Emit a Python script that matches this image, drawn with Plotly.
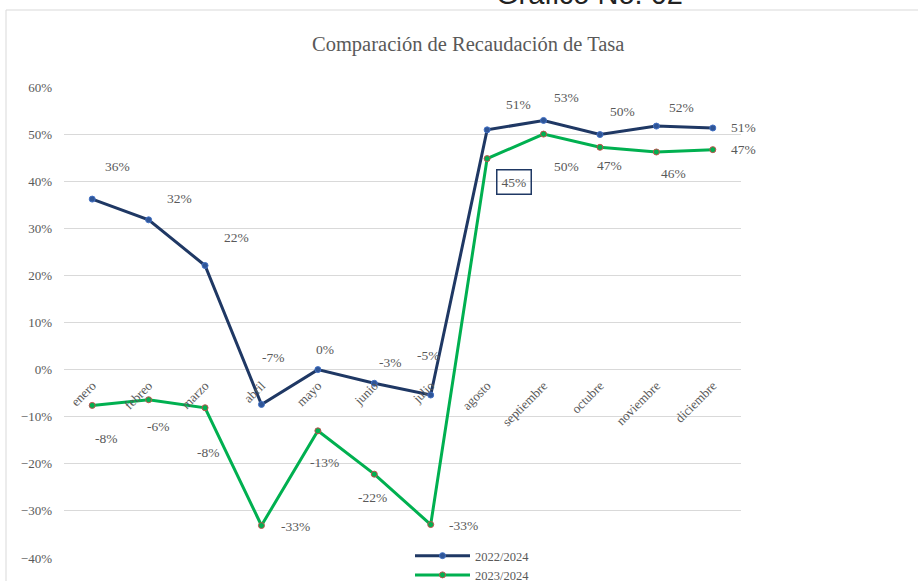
import plotly.graph_objects as go

# ---- data ----
months = ["enero", "febreo", "marzo", "abril", "mayo", "junio", "julio",
          "agosto", "septiembre", "octubre", "noviembre", "diciembre"]
serie_2022 = [0.362, 0.318, 0.221, -0.074, 0.000, -0.029, -0.054,
              0.509, 0.529, 0.499, 0.517, 0.513]
serie_2023 = [-0.076, -0.064, -0.081, -0.331, -0.130, -0.222, -0.329,
              0.448, 0.500, 0.472, 0.462, 0.467]
labels_2022 = ["36%", "32%", "22%", "-7%", "0%", "-3%", "-5%",
               "51%", "53%", "50%", "52%", "51%"]
labels_2023 = ["-8%", "-6%", "-8%", "-33%", "-13%", "-22%", "-33%",
               "45%", "50%", "47%", "46%", "47%"]
name_2022 = "2022/2024"
name_2023 = "2023/2024"
y_ticks = [-0.4, -0.3, -0.2, -0.1, 0.0, 0.1, 0.2, 0.3, 0.4, 0.5, 0.6]

# ---- label offsets (pixels: right, down) ----
off_2022 = [(25, -33), (31, -21), (31, -28), (12, -47), (7, -20), (16, -21),
            (-2, -40), (31, -25), (23, -23), (23, -23), (25, -19), (31, 0)]
off_2023 = [(14, 33), (10, 27), (3, 45), (34, 1), (7, 32), (-2, 23),
            (33, 1), (27, 23), (23, 32), (10, 18), (17, 21), (31, 0)]

# ---- layout geometry ----
W, H = 918, 581
ML, MR, MT, MB = 64, 177, 87, 23
PW, PH = W - ML - MR, H - MT - MB


def px_x(p):
    return (p - ML) / PW


def px_y(p):
    return (H - MB - p) / PH


NAVY = "#1F3864"
GREEN = "#00B050"
GRAY = "#595959"
SERIF = "Liberation Serif"

fig = go.Figure()
fig.add_trace(go.Scatter(
    x=months, y=serie_2022, name=name_2022, mode="lines+markers",
    line=dict(color=NAVY, width=3),
    marker=dict(size=6, color="#2F5597", line=dict(color="#4472C4", width=1)),
))
fig.add_trace(go.Scatter(
    x=months, y=serie_2023, name=name_2023, mode="lines+markers",
    line=dict(color=GREEN, width=3),
    marker=dict(size=6, color=GREEN, line=dict(color="#C0504D", width=1)),
))

annotations = []
for m, v, t, (dx, dy) in zip(months, serie_2022, labels_2022, off_2022):
    annotations.append(dict(x=m, y=v, xref="x", yref="y", text=t, showarrow=False,
                            xshift=dx, yshift=-dy,
                            font=dict(family=SERIF, size=13.5, color=GRAY)))
for i, (m, v, t, (dx, dy)) in enumerate(zip(months, serie_2023, labels_2023, off_2023)):
    a = dict(x=m, y=v, xref="x", yref="y", text=t, showarrow=False,
             xshift=dx, yshift=-dy,
             font=dict(family=SERIF, size=13.5, color=GRAY))
    if i == 7:
        a.update(bordercolor=NAVY, borderwidth=1.5, borderpad=4)
    annotations.append(a)

annotations.append(dict(x=px_x(468), y=px_y(44), xref="paper", yref="paper",
                        text="Comparación de Recaudación de Tasa", showarrow=False,
                        xanchor="center", yanchor="middle",
                        font=dict(family=SERIF, size=20.5, color=GRAY)))
annotations.append(dict(x=px_x(589), y=px_y(12), xref="paper", yref="paper",
                        text="Gráfico No. 02", showarrow=False,
                        xanchor="center", yanchor="bottom",
                        font=dict(family="Liberation Sans", size=29, color="#222222")))

shapes = [
    dict(type="line", xref="paper", yref="paper", x0=px_x(6), x1=px_x(918),
         y0=px_y(10), y1=px_y(10), line=dict(color="#D9D9D9", width=1)),
    dict(type="line", xref="paper", yref="paper", x0=px_x(6), x1=px_x(6),
         y0=px_y(10), y1=px_y(581), line=dict(color="#D9D9D9", width=1)),
]

fig.update_layout(
    width=W, height=H,
    margin=dict(l=ML, r=MR, t=MT, b=MB, autoexpand=False),
    paper_bgcolor="white", plot_bgcolor="white",
    showlegend=True,
    legend=dict(x=px_x(410), y=px_y(541), xanchor="left", yanchor="top",
                bgcolor="rgba(0,0,0,0)", font=dict(family=SERIF, size=12.5, color=GRAY),
                itemwidth=55, tracegroupgap=0),
    annotations=annotations,
    shapes=shapes,
    xaxis=dict(type="category", range=[-0.5, 11.5], anchor="free",
               position=(0.0 - (-0.4)) / 1.0, showgrid=False, showline=False,
               zeroline=False, ticks="", tickangle=-45, ticklabelstandoff=5,
               tickfont=dict(family=SERIF, size=13, color=GRAY)),
    yaxis=dict(range=[-0.4, 0.6], tickvals=y_ticks, tickformat=".0%",
               showgrid=True, gridcolor="#D9D9D9", gridwidth=1, zeroline=False,
               showline=False, ticks="", ticklabelstandoff=11,
               tickfont=dict(family=SERIF, size=13, color=GRAY)),
)

fig.write_html("out.html", config={"displayModeBar": False},
               post_script="document.body.style.margin='0';document.body.style.overflow='hidden';")
